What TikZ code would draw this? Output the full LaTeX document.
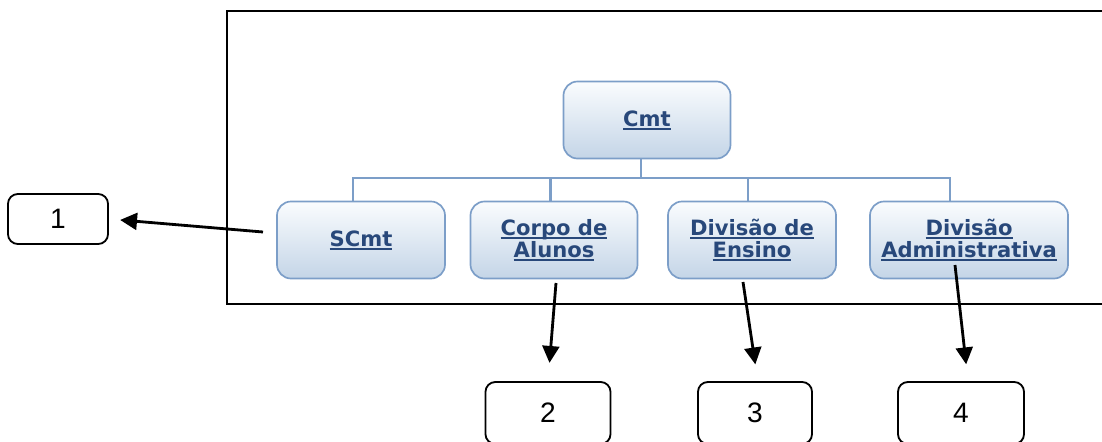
\documentclass[tikz,border=0pt]{standalone}
\usepackage{fontspec}
\setmainfont{Liberation Sans}
\newfontfamily\orgfont{DejaVu Sans}
\usetikzlibrary{arrows.meta}
\definecolor{orgtext}{RGB}{40,72,122}
\definecolor{orgline}{RGB}{124,158,200}
\definecolor{orgtop}{RGB}{250,252,254}
\definecolor{orgfill}{RGB}{196,213,231}
\newcommand\lnk[1]{\setbox0\hbox{#1}\rlap{\rule[-2.5pt]{\wd0}{1.2pt}}\box0}
\tikzset{
  org/.style={draw=orgline, line width=1.2pt, rounded corners=10pt, top color=orgtop,
    bottom color=orgfill, minimum height=1.925cm, text=orgtext, align=center,
    font=\orgfont\bfseries\fontsize{15}{15.6}\selectfont, inner sep=0pt},
  bus/.style={orgline, line width=1.5pt},
  numbox/.style={draw, line width=1.3pt, rounded corners=7pt, inner sep=0pt,
    font=\fontsize{20}{24}\selectfont},
  pointer/.style={-{Triangle[length=12pt,width=12pt]}, line width=2pt},
}

\begin{document}
\begin{tikzpicture}[x=0.025cm, y=-0.025cm]
      \useasboundingbox (0,0) rectangle (1102,441);
      \draw[line width=1.7pt] (1102,11) -- (227,11) -- (227,304) -- (1102,304);
      \node[org, minimum width=4.175cm] (Cmt) at (647,120) {\lnk{Cmt}};
      \node[org, minimum width=4.2cm] (SCmt) at (361,240) {\lnk{SCmt}};
      \node[org, minimum width=4.175cm] (Alunos) at (554,240) {\lnk{Corpo de}\\\lnk{Alunos}};
      \node[org, minimum width=4.2cm] (Ensino) at (752,240) {\lnk{Divisão de}\\\lnk{Ensino}};
      \node[org, minimum width=4.95cm] (Adm) at (969,240) {\lnk{Divisão}\\\lnk{Administrativa}};
      \draw[bus] ([xshift=-4.5pt]Cmt.south) -- ++(0,19) coordinate (bus);
      \foreach \n/\dx in {SCmt/-5.7, Alunos/-2.5, Ensino/-2.8, Adm/-13.5}
        \draw[bus] (bus) -| ([xshift=\dx pt]\n.north);
      \node[numbox, minimum width=2.5cm, minimum height=1.25cm] (n1) at (58,219) {1};
      \node[numbox, minimum width=3.125cm, minimum height=1.55cm] (n2) at (548,413) {2};
      \node[numbox, minimum width=2.85cm, minimum height=1.55cm] (n3) at (755,413) {3};
      \node[numbox, minimum width=3.15cm, minimum height=1.55cm] (n4) at (961,413) {4};
      \coordinate (a1) at (263,232);
      \coordinate (a2) at (556,283);
      \coordinate (a3) at (743,282);
      \coordinate (a4) at (955,265);
      \draw[pointer, shorten >=8pt] (a1) -- (n1.east);
      \draw[pointer, shorten >=13pt] (a2) -- (n2.north);
      \draw[pointer, shorten >=12pt] (a3) -- ([xshift=2pt]n3.north);
      \draw[pointer, shorten >=12pt] (a4) -- ([xshift=5pt]n4.north);
  \end{tikzpicture}
\end{document}
